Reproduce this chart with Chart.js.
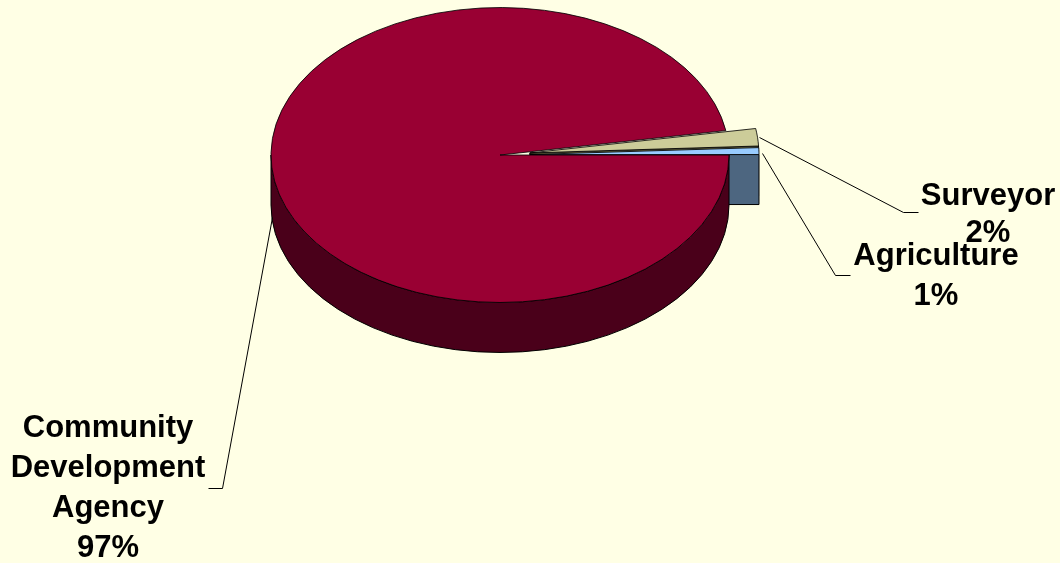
<!DOCTYPE html>
<html><head><meta charset="utf-8">
<script src="https://cdn.jsdelivr.net/npm/chart.js@4/dist/chart.umd.min.js"></script>
<style>html,body{margin:0;padding:0;background:#ffffe5;overflow:hidden}#wrap{width:1060px;height:563px;position:relative}</style>
</head><body><div id="wrap"><canvas id="c" width="1060" height="563"></canvas></div>
<script>
// ---- data ----
const categories = ['Community Development Agency', 'Surveyor', 'Agriculture'];
const shares = [97.35, 1.9, 0.75];
const labelLines = [['Community', 'Development', 'Agency'], ['Surveyor'], ['Agriculture']];

// ---- styles ----
const topColors = ['#990033', '#cccc99', '#99ccff'];
const sideColors = ['#4a001a', '#666640', '#4d6680'];
const explodePx = [0, 30, 30];
const tilt = 0.644;      // vertical squash of the pie top
const depth = 50;        // thickness in px
const labelLayout = [
  {x: 108, y: 437, lineH: 40, leader: [[272, 217], [222, 488], [208, 488]]},
  {x: 988, y: 205, lineH: 37, leader: [[759, 137], [903, 212], [918, 212]]},
  {x: 936, y: 265, lineH: 40, leader: [[762, 153], [835, 275], [850, 275]]}
];
const labelFont = 'bold 31px "Liberation Sans", Arial, sans-serif';

function shiftOf(a, i) {
  const h = (a.startAngle + a.endAngle) / 2;
  return [Math.cos(h) * explodePx[i], Math.sin(h) * explodePx[i]];
}

const pie3d = {
  id: 'pie3d',
  beforeDatasetsDraw(chart) {
    const ctx = chart.ctx;
    const arcs = chart.getDatasetMeta(0).data;
    const cx = arcs[0].x, cy = arcs[0].y;
    ctx.save();
    ctx.lineWidth = 1;
    ctx.strokeStyle = '#000';
    // radial end faces (facing viewer)
    arcs.forEach((a, i) => {
      const [sx, sy] = shiftOf(a, i);
      const ox = cx + sx, oy = cy + sy * tilt;
      const R = a.outerRadius;
      const e = a.endAngle;
      if (Math.cos(e) > 0.0001 && i > 0) {
        const px = ox + R * Math.cos(e), py = oy + R * Math.sin(e) * tilt;
        ctx.beginPath();
        ctx.moveTo(ox, oy); ctx.lineTo(px, py); ctx.lineTo(px, py + depth); ctx.lineTo(ox, oy + depth);
        ctx.closePath();
        ctx.fillStyle = sideColors[i];
        ctx.fill(); ctx.stroke();
      }
    });
    // outer walls (front half)
    arcs.forEach((a, i) => {
      const [sx, sy] = shiftOf(a, i);
      const ox = cx + sx, oy = cy + sy * tilt;
      const R = a.outerRadius;
      const s = Math.max(a.startAngle, 0), e = Math.min(a.endAngle, Math.PI);
      if (e > s) {
        ctx.beginPath();
        ctx.ellipse(ox, oy, R, R * tilt, 0, s, e, false);
        ctx.lineTo(ox + R * Math.cos(e), oy + R * Math.sin(e) * tilt + depth);
        ctx.ellipse(ox, oy + depth, R, R * tilt, 0, e, s, true);
        ctx.closePath();
        ctx.fillStyle = sideColors[i];
        ctx.fill(); ctx.stroke();
      }
    });
    ctx.restore();
    // exploded slices: translate each slice outward along its mid-angle
    arcs.forEach((a, i) => {
      if (!explodePx[i] || a._exploded) return;
      const base = a.draw;
      a.draw = function (c, area) {
        const [sx, sy] = shiftOf(this, i);
        c.save(); c.translate(sx, sy); base.call(this, c, area); c.restore();
      };
      a._exploded = true;
    });
    ctx.save();
    ctx.translate(cx, cy);
    ctx.scale(1, tilt);
    ctx.translate(-cx, -cy);
  },
  afterDatasetsDraw(chart) {
    chart.ctx.restore();
  },
  afterDraw(chart) {
    const ctx = chart.ctx;
    const total = shares.reduce((p, v) => p + v, 0);
    ctx.save();
    ctx.fillStyle = '#000';
    ctx.font = labelFont;
    ctx.textAlign = 'center';
    ctx.textBaseline = 'alphabetic';
    labelLayout.forEach((L, i) => {
      ctx.beginPath();
      ctx.strokeStyle = '#000';
      ctx.lineWidth = 1;
      L.leader.forEach((p, j) => j ? ctx.lineTo(p[0] + 0.5, p[1] + 0.5) : ctx.moveTo(p[0] + 0.5, p[1] + 0.5));
      ctx.stroke();
      const lines = labelLines[i].concat([Math.round(shares[i] / total * 100) + '%']);
      lines.forEach((t, j) => ctx.fillText(t, L.x, L.y + j * L.lineH));
    });
    ctx.restore();
  }
};

const bg = {
  id: 'bg',
  beforeDraw(chart) {
    const ctx = chart.ctx;
    ctx.save();
    ctx.fillStyle = '#ffffe5';
    ctx.fillRect(0, 0, chart.width, chart.height);
    ctx.restore();
  }
};

new Chart(document.getElementById('c'), {
  type: 'pie',
  data: {
    labels: categories,
    datasets: [{
      data: shares,
      backgroundColor: topColors,
      borderColor: '#000',
      borderWidth: 1,
      borderJoinStyle: 'bevel',
      clip: false
    }]
  },
  options: {
    responsive: false,
    animation: false,
    rotation: 90,
    radius: 229,
    layout: {padding: {left: 0, right: 60, top: 0, bottom: 253}},
    plugins: {legend: {display: false}, tooltip: {enabled: false}}
  },
  plugins: [bg, pie3d]
});
</script>
</body></html>
